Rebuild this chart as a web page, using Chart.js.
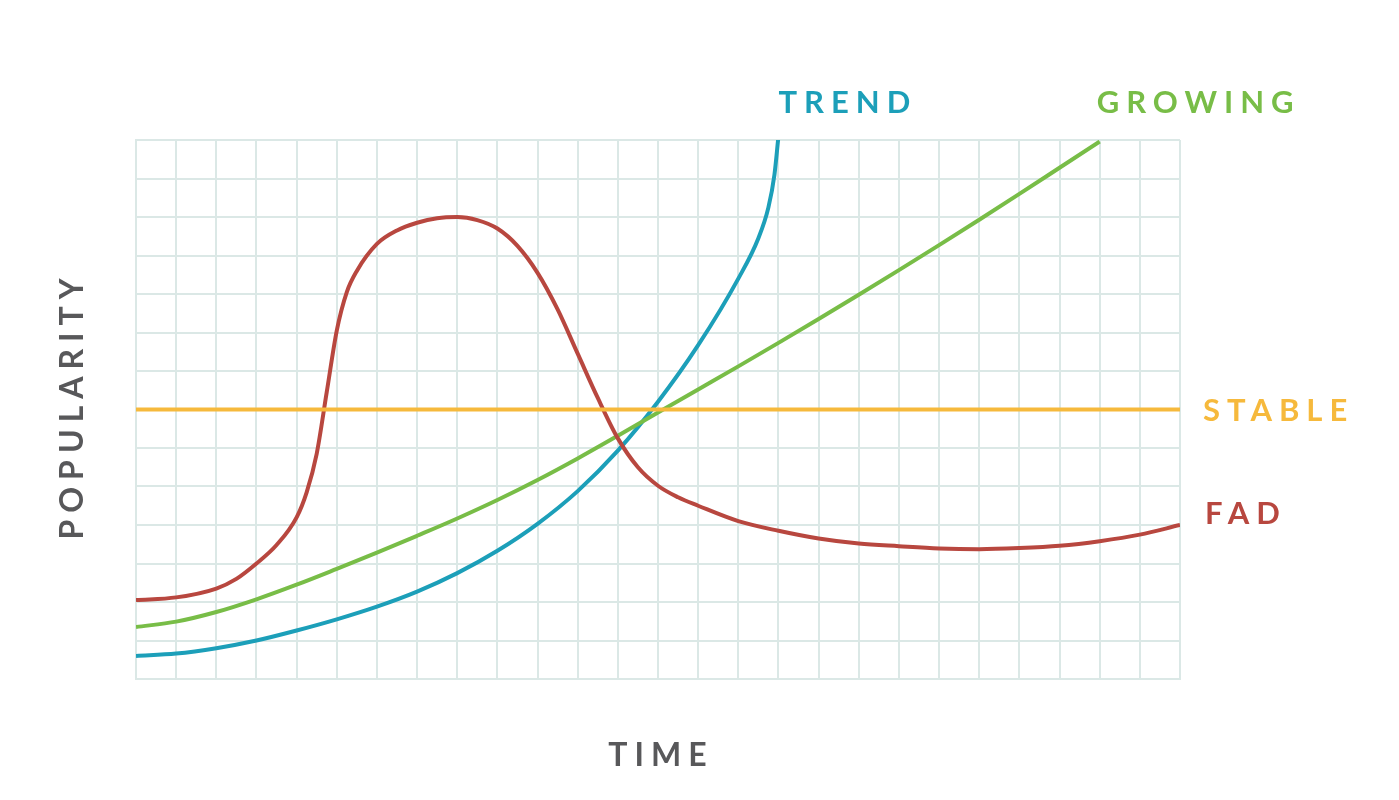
<!DOCTYPE html>
<html>
<head>
<meta charset="utf-8">
<title>Popularity over time</title>
<script src="https://cdn.jsdelivr.net/npm/chart.js@4"></script>
<style>
  body { margin: 0; background: #fff; }
  #wrap { width: 1399px; height: 800px; position: relative; }
</style>
</head>
<body>
<div id="wrap"><canvas id="chart"></canvas></div>
<script>
// grid: 26 columns of time, 14 rows of popularity
const xMax = 26;
const yMax = 14;

// series (x in grid columns, y in grid rows)
const fadX   = [0, 1, 2, 2.5, 3, 3.5, 4, 4.25, 4.5, 4.75, 5, 5.25, 5.5, 6, 6.5, 7, 7.5, 8, 8.5, 9, 9.5, 10, 10.5, 11, 11.5, 12, 12.5, 13, 13.5, 14, 15, 16, 17, 18, 19, 20, 21, 22, 23, 24, 25, 26];
const fadY   = [2.05, 2.12, 2.35, 2.6, 3.0, 3.48, 4.2, 4.85, 5.85, 7.45, 9.05, 10.05, 10.6, 11.3, 11.65, 11.85, 11.97, 12.0, 11.92, 11.7, 11.25, 10.55, 9.6, 8.45, 7.3, 6.25, 5.5, 5.02, 4.72, 4.5, 4.1, 3.85, 3.65, 3.52, 3.45, 3.39, 3.37, 3.4, 3.46, 3.58, 3.75, 4.0];

const growX  = [0, 1, 2, 3, 4, 5, 6, 7, 8, 9, 10, 11, 12, 13, 14, 15, 16, 17, 18, 19, 20, 21, 22, 23, 24];
const growY  = [1.35, 1.49, 1.74, 2.07, 2.45, 2.86, 3.28, 3.72, 4.17, 4.65, 5.17, 5.73, 6.32, 6.92, 7.52, 8.12, 8.73, 9.35, 9.98, 10.62, 11.27, 11.93, 12.6, 13.28, 13.96];

const trendX = [0, 1, 2, 3, 4, 5, 6, 7, 8, 9, 10, 11, 12, 13, 14, 15, 15.5, 15.75, 15.9, 16];
const trendY = [0.6, 0.66, 0.8, 1.0, 1.26, 1.55, 1.88, 2.27, 2.75, 3.33, 4.03, 4.88, 5.93, 7.2, 8.67, 10.4, 11.45, 12.25, 13.1, 14.1];

const stableX = [0, 26];
const stableY = [7, 7];

const labels = ["TREND", "GROWING", "STABLE", "FAD"];

const BLUE = "#1c9fb9";
const GREEN = "#78bd47";
const YELLOW = "#f6b93c";
const RED = "#b8473f";
const GRID = "#dbe8e6";

const pts = (xs, ys) => xs.map((x, i) => ({ x: x, y: ys[i] }));

function lineSet(label, xs, ys, color) {
  return {
    label: label,
    data: pts(xs, ys),
    borderColor: color,
    borderWidth: 4,
    pointRadius: 0,
    cubicInterpolationMode: 'monotone',
    fill: false
  };
}

// series names next to the line ends, axis names
const textPlugin = {
  id: 'texts',
  afterDatasetsDraw(chart) {
    const ctx = chart.ctx;
    const xs = chart.scales.x, ys = chart.scales.y;
    const area = chart.chartArea;
    ctx.save();
    ctx.font = "bold 31px Lato";
    ctx.letterSpacing = "7px";
    ctx.textBaseline = "middle";
    ctx.textAlign = "left";

    // TREND and GROWING sit above their top ends
    ctx.fillStyle = BLUE;
    ctx.fillText(labels[0], xs.getPixelForValue(trendX[trendX.length - 1]), area.top - 37);
    ctx.fillStyle = GREEN;
    ctx.fillText(labels[1], xs.getPixelForValue(growX[growX.length - 1]) - 3, area.top - 37);
    // STABLE and FAD to the right of the plot
    ctx.fillStyle = YELLOW;
    ctx.fillText(labels[2], area.right + 23, ys.getPixelForValue(stableY[1]) + 1);
    ctx.fillStyle = RED;
    ctx.fillText(labels[3], area.right + 25, ys.getPixelForValue(fadY[fadY.length - 1]) - 11);

    ctx.fillStyle = "#58585a";
    ctx.font = "bold 32px Lato";
    ctx.letterSpacing = "7px";
    ctx.textAlign = "center";
    ctx.fillText("TIME", (area.left + area.right) / 2 + 3, 756);
    ctx.translate(73, (area.top + area.bottom) / 2);
    ctx.rotate(-Math.PI / 2);
    ctx.fillText("POPULARITY", 4, 0);
    ctx.restore();
  }
};

new Chart(document.getElementById('chart').getContext('2d'), {
  type: 'line',
  data: {
    datasets: [
      lineSet("STABLE", stableX, stableY, YELLOW),
      lineSet("FAD", fadX, fadY, RED),
      lineSet("GROWING", growX, growY, GREEN),
      lineSet("TREND", trendX, trendY, BLUE)
    ]
  },
  options: {
    responsive: true,
    maintainAspectRatio: false,
    animation: false,
    layout: { padding: { left: 136, top: 140, right: 219, bottom: 121 } },
    plugins: {
      legend: { display: false },
      tooltip: { enabled: false }
    },
    scales: {
      x: {
        type: 'linear',
        min: 0, max: xMax,
        ticks: { display: false, stepSize: 1 },
        grid: { color: GRID, lineWidth: 2, drawTicks: false },
        border: { color: GRID, width: 2 }
      },
      y: {
        min: 0, max: yMax,
        ticks: { display: false, stepSize: 1 },
        grid: { color: GRID, lineWidth: 2, drawTicks: false },
        border: { color: GRID, width: 2 }
      }
    }
  },
  plugins: [textPlugin]
});
</script>
</body>
</html>
